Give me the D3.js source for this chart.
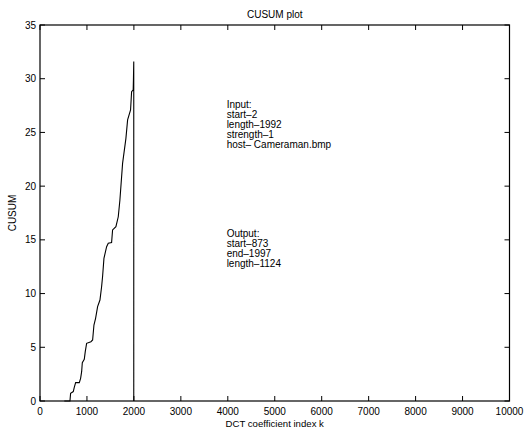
<!DOCTYPE html>
<html><head><meta charset="utf-8">
<script src="https://cdn.jsdelivr.net/npm/d3@7"></script>
<style>body{margin:0;background:#fff;} text{font-family:"Liberation Sans",Arial,sans-serif;font-size:10px;fill:#000;}</style>
</head><body>
<svg id="c" width="528" height="429"></svg>
<script>
const xTicks = [0,1000,2000,3000,4000,5000,6000,7000,8000,9000,10000];
const yTicks = [0,5,10,15,20,25,30,35];
// CUSUM curve (index k, value)
const cusumK = [518,638,652,709,730,759,837,865,887,901,943,964,993,1085,1121,1149,1184,1227,1277,1312,1334,1362,1419,1454,1525,1546,1617,1667,1702,1759,1830,1866,1929,1951,1985,1990,1997,1997];
const cusumV = [0,0,0.72,0.88,1.27,1.71,1.71,2.11,2.73,3.57,3.88,4.59,5.37,5.52,5.68,7.07,7.70,8.78,9.40,10.64,11.64,13.28,14.36,14.68,14.74,15.92,16.23,17.15,18.71,22.12,24.45,26.16,27.09,28.79,28.95,29.88,31.6,0];
const inputLines = ["Input:","start–2","length–1992","strength–1","host– Cameraman.bmp"];
const outputLines = ["Output:","start–873","end–1997","length–1124"];
const annInput = {k:3975, v:27.28};
const annOutput = {k:3975, v:15.27};

const svg = d3.select("#c");
const L=40, R=509.5, T=25, B=401;
const x = d3.scaleLinear().domain([0,10000]).range([L,R]);
const y = d3.scaleLinear().domain([0,35]).range([B,T]);

const tl = 5;
const g = svg.append("g").attr("stroke","#000").attr("stroke-width",1);
xTicks.forEach(t=>{
  g.append("line").attr("x1",x(t)).attr("x2",x(t)).attr("y1",B).attr("y2",B-tl);
  g.append("line").attr("x1",x(t)).attr("x2",x(t)).attr("y1",T).attr("y2",T+tl);
});
yTicks.forEach(t=>{
  g.append("line").attr("x1",L).attr("x2",L+tl).attr("y1",y(t)).attr("y2",y(t));
  g.append("line").attr("x1",R).attr("x2",R-tl).attr("y1",y(t)).attr("y2",y(t));
});
xTicks.forEach(t=>{
  svg.append("text").attr("x",x(t)).attr("y",B+14).attr("text-anchor","middle").text(t);
});
yTicks.forEach(t=>{
  svg.append("text").attr("x",L-4).attr("y",y(t)+3.5).attr("text-anchor","end").text(t);
});

const pts = cusumK.map((k,i)=>[k,cusumV[i]]);
const line = d3.line().x(d=>x(d[0])).y(d=>y(d[1]));
svg.append("path").datum(pts).attr("d",line).attr("fill","none").attr("stroke","#000").attr("stroke-width",1.1);

svg.append("rect").attr("x",L).attr("y",T).attr("width",R-L).attr("height",B-T).attr("fill","none").attr("stroke","#000").attr("stroke-width",1.2);

svg.append("text").attr("x",(L+R)/2).attr("y",17.5).attr("text-anchor","middle").text("CUSUM plot");
svg.append("text").attr("x",(L+R)/2).attr("y",427).attr("text-anchor","middle").style("font-size","9.6px").text("DCT coefficient index k");
svg.append("text").attr("transform",`translate(16,${(T+B)/2}) rotate(-90)`).attr("text-anchor","middle").text("CUSUM");

function ann(lines,pos){
  lines.forEach((s,i)=>{
    svg.append("text").attr("x",x(pos.k)).attr("y",y(pos.v)+i*10).text(s);
  });
}
ann(inputLines,annInput);
ann(outputLines,annOutput);
</script>
</body></html>
